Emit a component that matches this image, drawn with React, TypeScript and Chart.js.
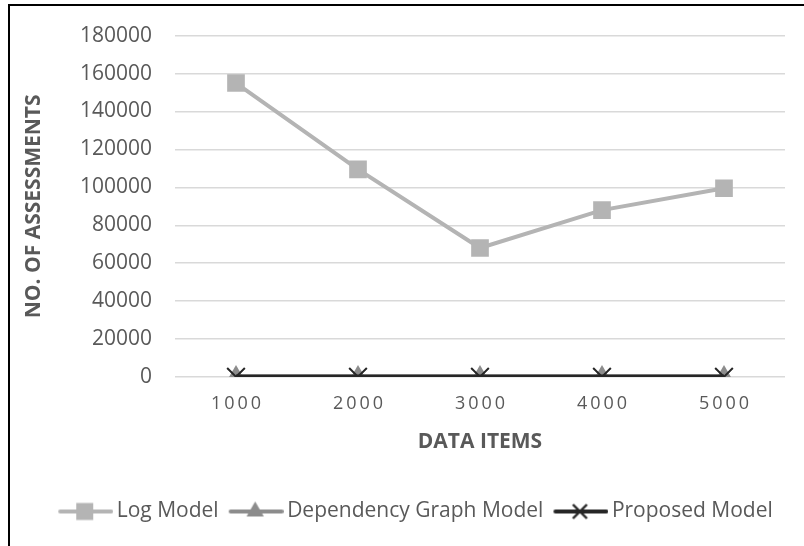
import React, { useEffect, useRef } from 'react';
import { Chart, registerables } from 'chart.js';

Chart.register(...registerables);

// ---- data ----
const categories = ['1000', '2000', '3000', '4000', '5000'];
const logModel = [155000, 109500, 68000, 88000, 99500];
const dependencyGraphModel = [300, 300, 300, 300, 300];
const proposedModel = [100, 100, 100, 100, 100];
const seriesNames = ['Log Model', 'Dependency Graph Model', 'Proposed Model'];
const yAxisTitle = 'NO. OF ASSESSMENTS';
const xAxisTitle = 'DATA ITEMS';
const yMin = 0;
const yMax = 180000;
const yStep = 20000;

const FONT = "'Open Sans', sans-serif";
const TEXT = '#595959';
const C_LOG = '#b4b4b4';
const C_DEP = '#8c8c8c';
const C_PROP = '#262626';

function makeIcon(color: string, marker: string, markerColor: string): HTMLCanvasElement {
  const W = 62, H = 22;
  const c = document.createElement('canvas');
  c.width = W; c.height = H;
  const ctx = c.getContext('2d')!;
  const cy = H / 2;
  const x0 = 7, x1 = W - 2;
  const cx = (x0 + x1) / 2;
  ctx.strokeStyle = color;
  ctx.lineWidth = 4;
  ctx.lineCap = 'round';
  ctx.beginPath(); ctx.moveTo(x0 + 2, cy); ctx.lineTo(x1, cy); ctx.stroke();
  ctx.fillStyle = markerColor;
  ctx.strokeStyle = markerColor;
  if (marker === 'rect') {
    const s = 8.5;
    ctx.fillRect(cx - s, cy - s, 2 * s, 2 * s);
  } else if (marker === 'triangle') {
    const r = 10;
    ctx.beginPath();
    ctx.moveTo(cx, cy - r);
    ctx.lineTo(cx + r * 0.866, cy + r / 2);
    ctx.lineTo(cx - r * 0.866, cy + r / 2);
    ctx.closePath();
    ctx.fill();
  } else {
    const d = 7;
    ctx.lineWidth = 2.4;
    ctx.lineCap = 'butt';
    ctx.beginPath();
    ctx.moveTo(cx - d, cy - d); ctx.lineTo(cx + d, cy + d);
    ctx.moveTo(cx + d, cy - d); ctx.lineTo(cx - d, cy + d);
    ctx.stroke();
  }
  return c;
}

const framePlugin = {
  id: 'frame',
  beforeDraw(chart: any) {
    const ctx = chart.ctx;
    ctx.save();
    ctx.fillStyle = '#ffffff';
    ctx.fillRect(0, 0, chart.width, chart.height);
    ctx.restore();
  },
  afterDraw(chart: any) {
    const ctx = chart.ctx;
    ctx.save();
    ctx.strokeStyle = '#000000';
    ctx.lineWidth = 2;
    ctx.beginPath();
    ctx.moveTo(9, chart.height);
    ctx.lineTo(9, 5);
    ctx.lineTo(chart.width, 5);
    ctx.stroke();
    ctx.restore();
  },
};

export default function App() {
  const ref = useRef<HTMLCanvasElement | null>(null);

  useEffect(() => {
    if (!ref.current) return;
    const icons = [
      makeIcon(C_LOG, 'rect', C_LOG),
      makeIcon(C_DEP, 'triangle', C_DEP),
      makeIcon(C_PROP, 'cross', C_PROP),
    ];
    const chart = new Chart(ref.current, {
      type: 'line',
      data: {
        labels: categories,
        datasets: [
          {
            label: seriesNames[0],
            data: logModel,
            borderColor: C_LOG,
            backgroundColor: C_LOG,
            borderWidth: 4,
            pointStyle: 'rect',
            pointRadius: 12.5,
            pointBorderWidth: 0,
            pointBackgroundColor: C_LOG,
            order: 2,
          },
          {
            label: seriesNames[1],
            data: dependencyGraphModel,
            borderColor: C_DEP,
            backgroundColor: C_DEP,
            borderWidth: 4,
            pointStyle: 'triangle',
            pointRadius: 11.5,
            pointBorderWidth: 0,
            pointBackgroundColor: C_DEP,
            order: 1,
          },
          {
            label: seriesNames[2],
            data: proposedModel,
            borderColor: C_PROP,
            backgroundColor: C_PROP,
            borderWidth: 4.5,
            pointStyle: 'crossRot',
            pointRadius: 12.5,
            pointBorderWidth: 2,
            pointBorderColor: C_PROP,
            order: 0,
          },
        ],
      },
      options: {
        animation: false,
        responsive: true,
        maintainAspectRatio: false,
        layout: { padding: { left: 46, right: 19, top: 32, bottom: 14 } },
        plugins: {
          tooltip: { enabled: false },
          legend: {
            position: 'bottom',
            labels: {
              usePointStyle: true,
              pointStyleWidth: 48,
              padding: 10,
              color: TEXT,
              font: { family: FONT, size: 21 },
              generateLabels: () =>
                seriesNames.map((name, i) => ({
                  text: name,
                  pointStyle: icons[i],
                  fillStyle: 'transparent',
                  strokeStyle: 'transparent',
                  lineWidth: 0,
                  hidden: false,
                  datasetIndex: i,
                  fontColor: TEXT,
                })),
            },
          },
        },
        scales: {
          x: {
            offset: true,
            afterFit: (s: any) => { s.height = 114; },
            grid: { display: false, drawTicks: false },
            border: { display: false },
            ticks: {
              color: TEXT,
              padding: 16,
              font: { family: FONT, size: 18 },
              callback: (_v: any, i: number) => categories[i].split('').join('\u2009'),
            },
            title: {
              display: true,
              text: xAxisTitle,
              color: TEXT,
              font: { family: FONT, size: 21, weight: 'bold' },
              padding: { top: 0, bottom: 36 },
            },
          },
          y: {
            min: yMin,
            max: yMax,
            afterFit: (s: any) => { s.width = 129; },
            grid: { color: '#d9d9d9', lineWidth: 1.5, drawTicks: false },
            border: { display: false },
            ticks: {
              stepSize: yStep,
              color: TEXT,
              padding: 23,
              font: { family: FONT, size: 21 },
              callback: (v: any) => String(v),
            },
            title: {
              display: true,
              text: yAxisTitle,
              color: TEXT,
              font: { family: FONT, size: 21, weight: 'bold' },
              padding: { top: -25, bottom: 0 },
            },
          },
        },
      },
      plugins: [framePlugin],
    });
    return () => chart.destroy();
  }, []);

  return (
    <div style={{ position: 'fixed', left: 0, top: 0, width: 804, height: 546 }}>
      <canvas ref={ref} />
    </div>
  );
}
